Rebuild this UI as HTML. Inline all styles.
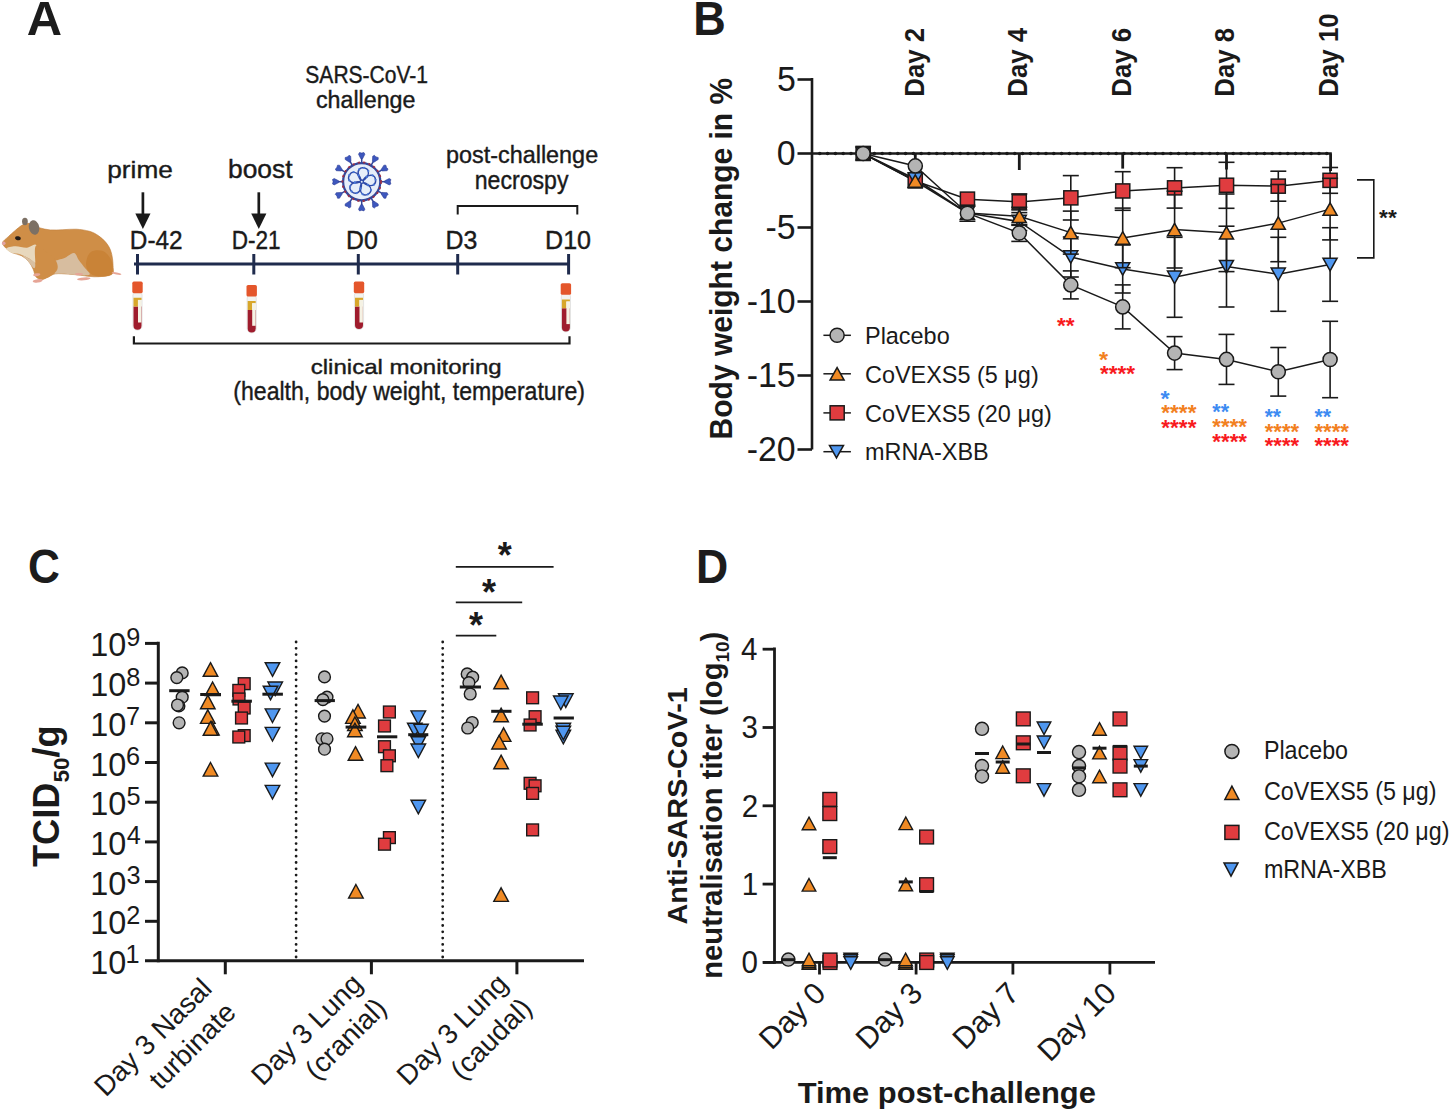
<!DOCTYPE html><html><head><meta charset="utf-8"><title>Figure</title><style>html,body{margin:0;padding:0;background:#fff;}svg{display:block;}text{font-family:"Liberation Sans",sans-serif;}</style></head><body>
<svg width="1450" height="1113" viewBox="0 0 1450 1113">
<rect width="1450" height="1113" fill="#ffffff"/>
<text x="26.78" y="34.90" font-size="47.68" font-weight="bold" fill="#1c1c1c" textLength="35.31" lengthAdjust="spacingAndGlyphs" >A</text>
<text x="693.18" y="35.00" font-size="47.53" font-weight="bold" fill="#1c1c1c" textLength="32.56" lengthAdjust="spacingAndGlyphs" >B</text>
<text x="28.09" y="583.22" font-size="48.87" font-weight="bold" fill="#1c1c1c" textLength="31.92" lengthAdjust="spacingAndGlyphs" >C</text>
<text x="696.11" y="582.80" font-size="47.53" font-weight="bold" fill="#1c1c1c" textLength="32.26" lengthAdjust="spacingAndGlyphs" >D</text>
<line x1="134.0" y1="264.0" x2="569.0" y2="264.0" stroke="#1f2b4d" stroke-width="3.2" />
<line x1="137.5" y1="254.0" x2="137.5" y2="274.5" stroke="#1f2b4d" stroke-width="3" />
<line x1="253.8" y1="254.0" x2="253.8" y2="274.5" stroke="#1f2b4d" stroke-width="3" />
<line x1="358.3" y1="254.0" x2="358.3" y2="274.5" stroke="#1f2b4d" stroke-width="3" />
<line x1="457.7" y1="254.0" x2="457.7" y2="274.5" stroke="#1f2b4d" stroke-width="3" />
<line x1="568.6" y1="254.0" x2="568.6" y2="274.5" stroke="#1f2b4d" stroke-width="3" />
<text x="305.35" y="82.77" font-size="23.59" font-weight="normal" fill="#1a1a1a" textLength="122.66" lengthAdjust="spacingAndGlyphs" stroke="#1a1a1a" stroke-width="0.4">SARS-CoV-1</text>
<text x="315.91" y="108.27" font-size="23.28" font-weight="normal" fill="#1a1a1a" textLength="99.52" lengthAdjust="spacingAndGlyphs" stroke="#1a1a1a" stroke-width="0.4">challenge</text>
<text x="107.31" y="177.66" font-size="24.78" font-weight="normal" fill="#1a1a1a" textLength="65.55" lengthAdjust="spacingAndGlyphs" stroke="#1a1a1a" stroke-width="0.4">prime</text>
<text x="228.00" y="177.65" font-size="25.19" font-weight="normal" fill="#1a1a1a" textLength="64.60" lengthAdjust="spacingAndGlyphs" stroke="#1a1a1a" stroke-width="0.4">boost</text>
<text x="446.09" y="162.87" font-size="24.25" font-weight="normal" fill="#1a1a1a" textLength="152.05" lengthAdjust="spacingAndGlyphs" stroke="#1a1a1a" stroke-width="0.4">post-challenge</text>
<text x="474.77" y="188.70" font-size="25.08" font-weight="normal" fill="#1a1a1a" textLength="93.68" lengthAdjust="spacingAndGlyphs" stroke="#1a1a1a" stroke-width="0.4">necrospy</text>
<text x="129.80" y="249.20" font-size="26.64" font-weight="normal" fill="#1a1a1a" textLength="52.82" lengthAdjust="spacingAndGlyphs" stroke="#1a1a1a" stroke-width="0.4">D-42</text>
<text x="231.75" y="249.20" font-size="26.64" font-weight="normal" fill="#1a1a1a" textLength="48.85" lengthAdjust="spacingAndGlyphs" stroke="#1a1a1a" stroke-width="0.4">D-21</text>
<text x="346.07" y="248.75" font-size="25.28" font-weight="normal" fill="#1a1a1a" textLength="31.70" lengthAdjust="spacingAndGlyphs" stroke="#1a1a1a" stroke-width="0.4">D0</text>
<text x="445.56" y="248.75" font-size="25.28" font-weight="normal" fill="#1a1a1a" textLength="31.84" lengthAdjust="spacingAndGlyphs" stroke="#1a1a1a" stroke-width="0.4">D3</text>
<text x="545.04" y="248.75" font-size="25.28" font-weight="normal" fill="#1a1a1a" textLength="46.04" lengthAdjust="spacingAndGlyphs" stroke="#1a1a1a" stroke-width="0.4">D10</text>
<text x="310.78" y="374.21" font-size="21.13" font-weight="normal" fill="#1a1a1a" textLength="190.87" lengthAdjust="spacingAndGlyphs" stroke="#1a1a1a" stroke-width="0.4">clinical monitoring</text>
<text x="233.27" y="400.15" font-size="26.28" font-weight="normal" fill="#1a1a1a" textLength="351.66" lengthAdjust="spacingAndGlyphs" stroke="#1a1a1a" stroke-width="0.4">(health, body weight, temperature)</text>
<line x1="142.9" y1="192.3" x2="142.9" y2="216.0" stroke="#1a1a1a" stroke-width="2.7" />
<polygon points="135.3,213.5 150.5,213.5 142.9,229" fill="#1a1a1a"/>
<line x1="258.8" y1="192.3" x2="258.8" y2="216.0" stroke="#1a1a1a" stroke-width="2.7" />
<polygon points="251.20000000000002,213.5 266.40000000000003,213.5 258.8,229" fill="#1a1a1a"/>
<polyline points="457.7,214.4 457.7,206.1 577.3,206.1 577.3,214.4" fill="none" stroke="#1a1a1a" stroke-width="2"/>
<polyline points="133.9,336.2 133.9,343.5 569.5,343.5 569.5,336.2" fill="none" stroke="#1a1a1a" stroke-width="2.2"/>
<rect x="132.90" y="290.60" width="9.2" height="39.60" rx="4.6" fill="#f3f3ef" stroke="#cfcfcf" stroke-width="0.5"/><path d="M133.50,306.60 H141.50 V325.70 A4,4 0 0 1 133.50,325.70 Z" fill="#9f1c2d"/><path d="M133.50,297.80 H141.50 V299.90 H137.90 V306.60 H133.50 Z" fill="#d8a72b"/><rect x="138.00" y="299.90" width="3.4" height="22.6" fill="#f5f2e4"/><rect x="132.30" y="281.60" width="10.4" height="11.6" rx="1.6" fill="#e4562b"/>
<rect x="247.10" y="293.90" width="9.2" height="39.00" rx="4.6" fill="#f3f3ef" stroke="#cfcfcf" stroke-width="0.5"/><path d="M247.70,309.90 H255.70 V328.40 A4,4 0 0 1 247.70,328.40 Z" fill="#9f1c2d"/><path d="M247.70,301.10 H255.70 V303.20 H252.10 V309.90 H247.70 Z" fill="#d8a72b"/><rect x="252.20" y="303.20" width="3.4" height="22.6" fill="#f5f2e4"/><rect x="246.50" y="284.90" width="10.4" height="11.6" rx="1.6" fill="#e4562b"/>
<rect x="354.40" y="290.60" width="9.2" height="39.00" rx="4.6" fill="#f3f3ef" stroke="#cfcfcf" stroke-width="0.5"/><path d="M355.00,306.60 H363.00 V325.10 A4,4 0 0 1 355.00,325.10 Z" fill="#9f1c2d"/><path d="M355.00,297.80 H363.00 V299.90 H359.40 V306.60 H355.00 Z" fill="#d8a72b"/><rect x="359.50" y="299.90" width="3.4" height="22.6" fill="#f5f2e4"/><rect x="353.80" y="281.60" width="10.4" height="11.6" rx="1.6" fill="#e4562b"/>
<rect x="561.30" y="292.20" width="9.2" height="39.70" rx="4.6" fill="#f3f3ef" stroke="#cfcfcf" stroke-width="0.5"/><path d="M561.90,308.20 H569.90 V327.40 A4,4 0 0 1 561.90,327.40 Z" fill="#9f1c2d"/><path d="M561.90,299.40 H569.90 V301.50 H566.30 V308.20 H561.90 Z" fill="#d8a72b"/><rect x="566.40" y="301.50" width="3.4" height="22.6" fill="#f5f2e4"/><rect x="560.70" y="283.20" width="10.4" height="11.6" rx="1.6" fill="#e4562b"/>
<line x1="361.7" y1="162.7" x2="361.7" y2="157.7" stroke="#34479a" stroke-width="1.5" /><polygon points="362.60,158.70 364.90,154.20 363.90,152.50 361.70,153.10 359.50,152.50 358.50,154.20 360.80,158.70" fill="#3d57bd" stroke="#2b3c95" stroke-width="0.6"/><line x1="371.2" y1="165.2" x2="373.7" y2="160.9" stroke="#34479a" stroke-width="1.5" /><polygon points="373.98,162.23 378.22,159.48 378.21,157.51 376.00,156.93 374.39,155.31 372.68,156.28 372.42,161.33" fill="#3d57bd" stroke="#2b3c95" stroke-width="0.6"/><line x1="378.2" y1="172.2" x2="382.5" y2="169.7" stroke="#34479a" stroke-width="1.5" /><polygon points="382.07,170.98 387.12,170.72 388.09,169.01 386.47,167.40 385.89,165.19 383.92,165.18 381.17,169.42" fill="#3d57bd" stroke="#2b3c95" stroke-width="0.6"/><line x1="380.7" y1="181.7" x2="385.7" y2="181.7" stroke="#34479a" stroke-width="1.5" /><polygon points="384.70,182.60 389.20,184.90 390.90,183.90 390.30,181.70 390.90,179.50 389.20,178.50 384.70,180.80" fill="#3d57bd" stroke="#2b3c95" stroke-width="0.6"/><line x1="378.2" y1="191.2" x2="382.5" y2="193.7" stroke="#34479a" stroke-width="1.5" /><polygon points="381.17,193.98 383.92,198.22 385.89,198.21 386.47,196.00 388.09,194.39 387.12,192.68 382.07,192.42" fill="#3d57bd" stroke="#2b3c95" stroke-width="0.6"/><line x1="371.2" y1="198.2" x2="373.7" y2="202.5" stroke="#34479a" stroke-width="1.5" /><polygon points="372.42,202.07 372.68,207.12 374.39,208.09 376.00,206.47 378.21,205.89 378.22,203.92 373.98,201.17" fill="#3d57bd" stroke="#2b3c95" stroke-width="0.6"/><line x1="361.7" y1="200.7" x2="361.7" y2="205.7" stroke="#34479a" stroke-width="1.5" /><polygon points="360.80,204.70 358.50,209.20 359.50,210.90 361.70,210.30 363.90,210.90 364.90,209.20 362.60,204.70" fill="#3d57bd" stroke="#2b3c95" stroke-width="0.6"/><line x1="352.2" y1="198.2" x2="349.7" y2="202.5" stroke="#34479a" stroke-width="1.5" /><polygon points="349.42,201.17 345.18,203.92 345.19,205.89 347.40,206.47 349.01,208.09 350.72,207.12 350.98,202.07" fill="#3d57bd" stroke="#2b3c95" stroke-width="0.6"/><line x1="345.2" y1="191.2" x2="340.9" y2="193.7" stroke="#34479a" stroke-width="1.5" /><polygon points="341.33,192.42 336.28,192.68 335.31,194.39 336.93,196.00 337.51,198.21 339.48,198.22 342.23,193.98" fill="#3d57bd" stroke="#2b3c95" stroke-width="0.6"/><line x1="342.7" y1="181.7" x2="337.7" y2="181.7" stroke="#34479a" stroke-width="1.5" /><polygon points="338.70,180.80 334.20,178.50 332.50,179.50 333.10,181.70 332.50,183.90 334.20,184.90 338.70,182.60" fill="#3d57bd" stroke="#2b3c95" stroke-width="0.6"/><line x1="345.2" y1="172.2" x2="340.9" y2="169.7" stroke="#34479a" stroke-width="1.5" /><polygon points="342.23,169.42 339.48,165.18 337.51,165.19 336.93,167.40 335.31,169.01 336.28,170.72 341.33,170.98" fill="#3d57bd" stroke="#2b3c95" stroke-width="0.6"/><line x1="352.2" y1="165.2" x2="349.7" y2="160.9" stroke="#34479a" stroke-width="1.5" /><polygon points="350.98,161.33 350.72,156.28 349.01,155.31 347.40,156.93 345.19,157.51 345.18,159.48 349.42,162.23" fill="#3d57bd" stroke="#2b3c95" stroke-width="0.6"/><circle cx="361.7" cy="181.7" r="18.6" fill="#e7eef9" stroke="#34479a" stroke-width="2.2"/><circle cx="361.7" cy="181.7" r="19.3" fill="none" stroke="#9c2f45" stroke-width="1.8" stroke-dasharray="2.2 3.2"/><path d="M361.96,180.22 C360.55,179.97 358.89,177.31 358.41,175.52 C357.94,173.73 358.15,170.74 359.10,169.47 C360.05,168.21 362.59,167.64 364.13,167.91 C365.67,168.18 367.86,169.58 368.32,171.10 C368.79,172.62 367.96,175.50 366.90,177.02 C365.84,178.54 363.38,180.47 361.96,180.22 Z" fill="none" stroke="#2f4aa8" stroke-width="1.4"/><circle cx="358.41" cy="175.52" r="1.1" fill="#4a78d8"/><circle cx="359.10" cy="169.47" r="1.1" fill="#4a78d8"/><circle cx="368.32" cy="171.10" r="1.1" fill="#4a78d8"/><circle cx="366.90" cy="177.02" r="1.1" fill="#4a78d8"/><circle cx="364.13" cy="167.91" r="1.1" fill="#4a78d8"/><path d="M363.19,181.49 C362.99,180.07 365.01,177.67 366.56,176.66 C368.12,175.66 371.03,174.94 372.53,175.45 C374.03,175.96 375.35,178.21 375.56,179.75 C375.78,181.30 375.13,183.82 373.83,184.72 C372.53,185.63 369.54,185.74 367.76,185.20 C365.99,184.66 363.39,182.91 363.19,181.49 Z" fill="none" stroke="#2f4aa8" stroke-width="1.4"/><circle cx="366.56" cy="176.66" r="1.1" fill="#4a78d8"/><circle cx="372.53" cy="175.45" r="1.1" fill="#4a78d8"/><circle cx="373.83" cy="184.72" r="1.1" fill="#4a78d8"/><circle cx="367.76" cy="185.20" r="1.1" fill="#4a78d8"/><circle cx="375.56" cy="179.75" r="1.1" fill="#4a78d8"/><path d="M362.36,183.05 C363.65,182.42 366.55,183.60 367.99,184.77 C369.43,185.94 371.02,188.48 370.99,190.06 C370.96,191.65 369.24,193.60 367.84,194.28 C366.43,194.97 363.84,195.13 362.57,194.17 C361.31,193.21 360.28,190.40 360.24,188.55 C360.21,186.69 361.07,183.68 362.36,183.05 Z" fill="none" stroke="#2f4aa8" stroke-width="1.4"/><circle cx="367.99" cy="184.77" r="1.1" fill="#4a78d8"/><circle cx="370.99" cy="190.06" r="1.1" fill="#4a78d8"/><circle cx="362.57" cy="194.17" r="1.1" fill="#4a78d8"/><circle cx="360.24" cy="188.55" r="1.1" fill="#4a78d8"/><circle cx="367.84" cy="194.28" r="1.1" fill="#4a78d8"/><path d="M360.62,182.74 C361.62,183.78 361.39,186.90 360.73,188.63 C360.06,190.36 358.13,192.65 356.62,193.12 C355.10,193.58 352.71,192.55 351.63,191.43 C350.54,190.30 349.59,187.88 350.11,186.38 C350.63,184.88 352.99,183.04 354.74,182.43 C356.49,181.82 359.62,181.71 360.62,182.74 Z" fill="none" stroke="#2f4aa8" stroke-width="1.4"/><circle cx="360.73" cy="188.63" r="1.1" fill="#4a78d8"/><circle cx="356.62" cy="193.12" r="1.1" fill="#4a78d8"/><circle cx="350.11" cy="186.38" r="1.1" fill="#4a78d8"/><circle cx="354.74" cy="182.43" r="1.1" fill="#4a78d8"/><circle cx="351.63" cy="191.43" r="1.1" fill="#4a78d8"/><path d="M360.38,181.00 C359.70,182.26 356.66,183.02 354.81,182.92 C352.96,182.82 350.18,181.69 349.27,180.39 C348.36,179.10 348.61,176.51 349.34,175.13 C350.07,173.75 352.08,172.09 353.67,172.12 C355.25,172.15 357.73,173.83 358.85,175.31 C359.97,176.78 361.05,179.73 360.38,181.00 Z" fill="none" stroke="#2f4aa8" stroke-width="1.4"/><circle cx="354.81" cy="182.92" r="1.1" fill="#4a78d8"/><circle cx="349.27" cy="180.39" r="1.1" fill="#4a78d8"/><circle cx="353.67" cy="172.12" r="1.1" fill="#4a78d8"/><circle cx="358.85" cy="175.31" r="1.1" fill="#4a78d8"/><circle cx="349.34" cy="175.13" r="1.1" fill="#4a78d8"/>
<g><path d="M2.51,242.72 C2.81,240.78 5.95,238.94 8.07,236.90 C10.19,234.85 12.85,232.41 15.24,230.44 C17.63,228.47 20.02,226.23 22.41,225.06 C24.80,223.90 26.75,223.00 29.59,223.45 C32.42,223.90 36.01,226.68 39.45,227.75 C42.88,228.83 46.32,229.57 50.21,229.90 C54.09,230.23 58.42,229.84 62.76,229.72 C67.09,229.60 71.72,228.92 76.21,229.19 C80.69,229.45 85.92,230.23 89.65,231.34 C93.39,232.44 95.93,234.00 98.62,235.82 C101.31,237.64 103.82,239.93 105.79,242.28 C107.76,244.62 109.33,247.13 110.45,249.90 C111.57,252.66 112.07,255.95 112.52,258.86 C112.96,261.78 113.04,265.06 113.14,267.38 C113.25,269.69 113.92,271.38 113.14,272.76 C112.37,274.13 111.65,274.95 108.48,275.63 C105.31,276.30 98.77,276.85 94.14,276.79 C89.50,276.73 85.02,275.72 80.69,275.27 C76.36,274.82 72.32,274.34 68.14,274.10 C63.95,273.86 58.87,273.39 55.59,273.83 C52.30,274.28 50.65,275.85 48.41,276.79 C46.17,277.73 44.23,279.48 42.14,279.48 C40.05,279.48 37.36,278.51 35.86,276.79 C34.37,275.07 34.37,271.71 33.17,269.17 C31.98,266.63 30.63,263.79 28.69,261.55 C26.75,259.31 24.21,257.17 21.52,255.72 C18.83,254.27 15.09,254.05 12.55,252.85 C10.01,251.66 7.95,250.24 6.28,248.55 C4.60,246.86 2.21,244.67 2.51,242.72 Z" fill="#cf8e47" stroke="#bf7d3a" stroke-width="0.6"/><path d="M90.55,252.14 C93.24,250.12 98.89,249.75 102.21,250.79 C105.52,251.84 108.69,255.50 110.45,258.41 C112.22,261.33 112.81,265.51 112.78,268.28 C112.75,271.04 112.93,273.65 110.27,275.00 C107.61,276.34 100.41,276.87 96.83,276.34 C93.24,275.82 90.55,274.10 88.76,271.86 C86.96,269.62 85.77,266.18 86.07,262.90 C86.37,259.61 87.86,254.15 90.55,252.14 Z" fill="#c98337"/><path d="M53.79,261.55 C55.73,259.98 61.19,259.38 64.55,257.96 C67.91,256.55 71.57,252.66 73.96,253.03 C76.36,253.41 77.03,257.67 78.90,260.21 C80.76,262.75 83.38,265.88 85.17,268.28 C86.96,270.67 90.70,273.39 89.65,274.55 C88.61,275.72 83.08,275.39 78.90,275.27 C74.71,275.15 68.73,274.18 64.55,273.83 C60.37,273.49 55.73,274.28 53.79,273.21 C51.85,272.13 52.90,269.32 52.90,267.38 C52.90,265.44 51.85,263.12 53.79,261.55 Z" fill="#d7bd9f"/><path d="M6.28,248.55 C6.87,247.46 11.80,246.46 15.24,246.31 C18.68,246.16 23.53,247.95 26.90,247.65 C30.26,247.36 33.62,243.77 35.41,244.52 C37.21,245.26 37.65,249.07 37.65,252.14 C37.65,255.20 36.76,261.78 35.41,262.90 C34.07,264.02 32.05,260.28 29.59,258.86 C27.12,257.44 23.61,255.38 20.62,254.38 C17.63,253.38 14.05,253.83 11.66,252.85 C9.26,251.88 5.68,249.64 6.28,248.55 Z" fill="#e8d8bd"/><path d="M22.41,255.28 C22.56,254.75 27.42,257.52 29.59,258.86 C31.75,260.21 34.67,261.78 35.41,263.34 C36.16,264.91 35.19,268.50 34.07,268.28 C32.95,268.05 30.63,264.17 28.69,262.00 C26.75,259.83 22.26,255.80 22.41,255.28 Z" fill="#d9c0a2"/><path d="M35.86,245.86 C37.73,243.92 43.33,249.75 46.62,252.14 C49.91,254.53 53.79,257.37 55.59,260.21 C57.38,263.05 58.28,266.48 57.38,269.17 C56.48,271.86 52.75,274.67 50.21,276.34 C47.67,278.02 44.38,279.29 42.14,279.21 C39.90,279.14 37.88,278.47 36.76,275.90 C35.64,273.33 35.56,268.80 35.41,263.79 C35.26,258.79 33.99,247.80 35.86,245.86 Z" fill="#cf8e47"/><ellipse cx="24.92" cy="221.48" rx="2.87" ry="3.77" fill="#7c7064"/><ellipse cx="34.07" cy="227.48" rx="5.20" ry="7.35" transform="rotate(-12 34.07 227.48)" fill="#7c7064"/><ellipse cx="17.93" cy="238.24" rx="2.87" ry="1.97" transform="rotate(15 17.93 238.24)" fill="#231b16"/><circle cx="3.77" cy="243.35" r="1.79" fill="#e2a3a3"/><ellipse cx="36.76" cy="274.73" rx="3.59" ry="1.43" transform="rotate(-10 36.76 274.73)" fill="#e6a596"/><ellipse cx="37.65" cy="280.83" rx="4.93" ry="1.61" transform="rotate(-8 37.65 280.83)" fill="#e6a596"/><ellipse cx="83.83" cy="278.85" rx="6.72" ry="1.43" transform="rotate(-5 83.83 278.85)" fill="#e6a596"/><ellipse cx="116.55" cy="273.47" rx="4.93" ry="1.08" transform="rotate(10 116.55 273.47)" fill="#e6a596"/><ellipse cx="78.90" cy="274.19" rx="4.03" ry="1.08" transform="rotate(0 78.90 274.19)" fill="#e6a596"/></g>
<line x1="812.0" y1="78.0" x2="812.0" y2="449.5" stroke="#1a1a1a" stroke-width="2.6" />
<line x1="797.5" y1="79.5" x2="812.0" y2="79.5" stroke="#1a1a1a" stroke-width="2.6" />
<text x="776.88" y="90.56" font-size="34.75" font-weight="normal" fill="#1a1a1a" textLength="18.85" lengthAdjust="spacingAndGlyphs">5</text>
<line x1="797.5" y1="153.5" x2="812.0" y2="153.5" stroke="#1a1a1a" stroke-width="2.6" />
<text x="776.78" y="164.56" font-size="34.75" font-weight="normal" fill="#1a1a1a" textLength="18.85" lengthAdjust="spacingAndGlyphs">0</text>
<line x1="797.5" y1="227.5" x2="812.0" y2="227.5" stroke="#1a1a1a" stroke-width="2.6" />
<text x="765.59" y="238.56" font-size="34.75" font-weight="normal" fill="#1a1a1a" textLength="30.13" lengthAdjust="spacingAndGlyphs">-5</text>
<line x1="797.5" y1="301.5" x2="812.0" y2="301.5" stroke="#1a1a1a" stroke-width="2.6" />
<text x="746.64" y="312.56" font-size="34.75" font-weight="normal" fill="#1a1a1a" textLength="48.98" lengthAdjust="spacingAndGlyphs">-10</text>
<line x1="797.5" y1="375.5" x2="812.0" y2="375.5" stroke="#1a1a1a" stroke-width="2.6" />
<text x="746.74" y="386.56" font-size="34.75" font-weight="normal" fill="#1a1a1a" textLength="48.98" lengthAdjust="spacingAndGlyphs">-15</text>
<line x1="797.5" y1="449.5" x2="812.0" y2="449.5" stroke="#1a1a1a" stroke-width="2.6" />
<text x="746.64" y="460.56" font-size="34.75" font-weight="normal" fill="#1a1a1a" textLength="48.98" lengthAdjust="spacingAndGlyphs">-20</text>
<text transform="rotate(-90)" x="-439.41" y="732.35" font-size="30.43" font-weight="bold" fill="#1a1a1a" textLength="361.60" lengthAdjust="spacingAndGlyphs">Body weight change in %</text>
<text transform="translate(0.00,0) rotate(-90)" x="-96.63" y="923.99" font-size="27.05" font-weight="bold" fill="#1a1a1a" textLength="68.86" lengthAdjust="spacingAndGlyphs">Day 2</text>
<text transform="translate(103.10,0) rotate(-90)" x="-96.63" y="923.99" font-size="27.05" font-weight="bold" fill="#1a1a1a" textLength="68.86" lengthAdjust="spacingAndGlyphs">Day 4</text>
<text transform="translate(206.60,0) rotate(-90)" x="-96.63" y="923.99" font-size="27.05" font-weight="bold" fill="#1a1a1a" textLength="68.86" lengthAdjust="spacingAndGlyphs">Day 6</text>
<text transform="translate(310.10,0) rotate(-90)" x="-96.63" y="923.99" font-size="27.05" font-weight="bold" fill="#1a1a1a" textLength="68.86" lengthAdjust="spacingAndGlyphs">Day 8</text>
<text transform="translate(414.40,0) rotate(-90)" x="-96.63" y="923.99" font-size="27.05" font-weight="bold" fill="#1a1a1a" textLength="83.21" lengthAdjust="spacingAndGlyphs">Day 10</text>
<line x1="812.0" y1="153.5" x2="1331.8" y2="153.5" stroke="#1a1a1a" stroke-width="2.4" />
<line x1="819.8" y1="153.5" x2="1330" y2="153.5" stroke="#1a1a1a" stroke-width="3.6" stroke-linecap="round" stroke-dasharray="0 7.8"/>
<line x1="915.3" y1="153.5" x2="915.3" y2="163.0" stroke="#1a1a1a" stroke-width="2.8" />
<line x1="1019.3" y1="153.5" x2="1019.3" y2="170.0" stroke="#1a1a1a" stroke-width="2.8" />
<line x1="1122.7" y1="153.5" x2="1122.7" y2="168.6" stroke="#1a1a1a" stroke-width="2.8" />
<line x1="1226.5" y1="153.5" x2="1226.5" y2="169.5" stroke="#1a1a1a" stroke-width="2.8" />
<line x1="1330.6" y1="153.5" x2="1330.6" y2="171.0" stroke="#1a1a1a" stroke-width="2.8" />
<polyline points="863.1,153.5 915.3,181.0 967.4,199.2 1019.3,201.9 1070.8,197.8 1122.7,191.0 1174.6,187.9 1226.5,185.3 1278.3,186.2 1330.1,180.4" fill="none" stroke="#1a1a1a" stroke-width="1.5"/>
<polyline points="863.1,153.5 915.3,179.0 967.4,213.0 1019.3,221.6 1070.8,257.0 1122.7,269.0 1174.6,277.3 1226.5,266.6 1278.3,274.3 1330.1,264.5" fill="none" stroke="#1a1a1a" stroke-width="1.5"/>
<polyline points="863.1,153.5 915.3,181.0 967.4,213.0 1019.3,216.3 1070.8,232.6 1122.7,237.9 1174.6,229.6 1226.5,232.8 1278.3,223.1 1330.1,209.1" fill="none" stroke="#1a1a1a" stroke-width="1.5"/>
<polyline points="863.1,153.5 915.3,165.9 967.4,213.2 1019.3,233.0 1070.8,284.9 1122.7,306.9 1174.6,353.1 1226.5,359.4 1278.3,371.8 1330.1,359.5" fill="none" stroke="#1a1a1a" stroke-width="1.5"/>
<line x1="1019.3" y1="193.9" x2="1019.3" y2="209.9" stroke="#1a1a1a" stroke-width="1.6" /><line x1="1011.3" y1="193.9" x2="1027.3" y2="193.9" stroke="#1a1a1a" stroke-width="1.6" /><line x1="1011.3" y1="209.9" x2="1027.3" y2="209.9" stroke="#1a1a1a" stroke-width="1.6" /><line x1="1070.8" y1="175.6" x2="1070.8" y2="220.0" stroke="#1a1a1a" stroke-width="1.6" /><line x1="1062.8" y1="175.6" x2="1078.8" y2="175.6" stroke="#1a1a1a" stroke-width="1.6" /><line x1="1062.8" y1="220.0" x2="1078.8" y2="220.0" stroke="#1a1a1a" stroke-width="1.6" /><line x1="1122.7" y1="171.7" x2="1122.7" y2="210.3" stroke="#1a1a1a" stroke-width="1.6" /><line x1="1114.7" y1="171.7" x2="1130.7" y2="171.7" stroke="#1a1a1a" stroke-width="1.6" /><line x1="1114.7" y1="210.3" x2="1130.7" y2="210.3" stroke="#1a1a1a" stroke-width="1.6" /><line x1="1174.6" y1="167.7" x2="1174.6" y2="208.1" stroke="#1a1a1a" stroke-width="1.6" /><line x1="1166.6" y1="167.7" x2="1182.6" y2="167.7" stroke="#1a1a1a" stroke-width="1.6" /><line x1="1166.6" y1="208.1" x2="1182.6" y2="208.1" stroke="#1a1a1a" stroke-width="1.6" /><line x1="1226.5" y1="162.3" x2="1226.5" y2="208.3" stroke="#1a1a1a" stroke-width="1.6" /><line x1="1218.5" y1="162.3" x2="1234.5" y2="162.3" stroke="#1a1a1a" stroke-width="1.6" /><line x1="1218.5" y1="208.3" x2="1234.5" y2="208.3" stroke="#1a1a1a" stroke-width="1.6" /><line x1="1278.3" y1="171.2" x2="1278.3" y2="201.2" stroke="#1a1a1a" stroke-width="1.6" /><line x1="1270.3" y1="171.2" x2="1286.3" y2="171.2" stroke="#1a1a1a" stroke-width="1.6" /><line x1="1270.3" y1="201.2" x2="1286.3" y2="201.2" stroke="#1a1a1a" stroke-width="1.6" /><line x1="1330.1" y1="167.5" x2="1330.1" y2="193.3" stroke="#1a1a1a" stroke-width="1.6" /><line x1="1322.1" y1="167.5" x2="1338.1" y2="167.5" stroke="#1a1a1a" stroke-width="1.6" /><line x1="1322.1" y1="193.3" x2="1338.1" y2="193.3" stroke="#1a1a1a" stroke-width="1.6" /><rect x="856.1" y="146.4" width="14.1" height="14.1" fill="#e03c3f" stroke="#1a1a1a" stroke-width="1.5"/><rect x="908.2" y="173.9" width="14.1" height="14.1" fill="#e03c3f" stroke="#1a1a1a" stroke-width="1.5"/><rect x="960.4" y="192.1" width="14.1" height="14.1" fill="#e03c3f" stroke="#1a1a1a" stroke-width="1.5"/><rect x="1012.2" y="194.8" width="14.1" height="14.1" fill="#e03c3f" stroke="#1a1a1a" stroke-width="1.5"/><rect x="1063.8" y="190.8" width="14.1" height="14.1" fill="#e03c3f" stroke="#1a1a1a" stroke-width="1.5"/><rect x="1115.7" y="183.9" width="14.1" height="14.1" fill="#e03c3f" stroke="#1a1a1a" stroke-width="1.5"/><rect x="1167.5" y="180.8" width="14.1" height="14.1" fill="#e03c3f" stroke="#1a1a1a" stroke-width="1.5"/><rect x="1219.5" y="178.2" width="14.1" height="14.1" fill="#e03c3f" stroke="#1a1a1a" stroke-width="1.5"/><rect x="1271.2" y="179.1" width="14.1" height="14.1" fill="#e03c3f" stroke="#1a1a1a" stroke-width="1.5"/><rect x="1323.0" y="173.3" width="14.1" height="14.1" fill="#e03c3f" stroke="#1a1a1a" stroke-width="1.5"/><line x1="1019.3" y1="212.6" x2="1019.3" y2="230.6" stroke="#1a1a1a" stroke-width="1.6" /><line x1="1011.3" y1="212.6" x2="1027.3" y2="212.6" stroke="#1a1a1a" stroke-width="1.6" /><line x1="1011.3" y1="230.6" x2="1027.3" y2="230.6" stroke="#1a1a1a" stroke-width="1.6" /><line x1="1070.8" y1="237.0" x2="1070.8" y2="277.0" stroke="#1a1a1a" stroke-width="1.6" /><line x1="1062.8" y1="237.0" x2="1078.8" y2="237.0" stroke="#1a1a1a" stroke-width="1.6" /><line x1="1062.8" y1="277.0" x2="1078.8" y2="277.0" stroke="#1a1a1a" stroke-width="1.6" /><line x1="1122.7" y1="245.0" x2="1122.7" y2="293.0" stroke="#1a1a1a" stroke-width="1.6" /><line x1="1114.7" y1="245.0" x2="1130.7" y2="245.0" stroke="#1a1a1a" stroke-width="1.6" /><line x1="1114.7" y1="293.0" x2="1130.7" y2="293.0" stroke="#1a1a1a" stroke-width="1.6" /><line x1="1174.6" y1="237.3" x2="1174.6" y2="317.3" stroke="#1a1a1a" stroke-width="1.6" /><line x1="1166.6" y1="237.3" x2="1182.6" y2="237.3" stroke="#1a1a1a" stroke-width="1.6" /><line x1="1166.6" y1="317.3" x2="1182.6" y2="317.3" stroke="#1a1a1a" stroke-width="1.6" /><line x1="1226.5" y1="226.2" x2="1226.5" y2="307.0" stroke="#1a1a1a" stroke-width="1.6" /><line x1="1218.5" y1="226.2" x2="1234.5" y2="226.2" stroke="#1a1a1a" stroke-width="1.6" /><line x1="1218.5" y1="307.0" x2="1234.5" y2="307.0" stroke="#1a1a1a" stroke-width="1.6" /><line x1="1278.3" y1="237.3" x2="1278.3" y2="311.3" stroke="#1a1a1a" stroke-width="1.6" /><line x1="1270.3" y1="237.3" x2="1286.3" y2="237.3" stroke="#1a1a1a" stroke-width="1.6" /><line x1="1270.3" y1="311.3" x2="1286.3" y2="311.3" stroke="#1a1a1a" stroke-width="1.6" /><line x1="1330.1" y1="227.7" x2="1330.1" y2="301.3" stroke="#1a1a1a" stroke-width="1.6" /><line x1="1322.1" y1="227.7" x2="1338.1" y2="227.7" stroke="#1a1a1a" stroke-width="1.6" /><line x1="1322.1" y1="301.3" x2="1338.1" y2="301.3" stroke="#1a1a1a" stroke-width="1.6" /><polygon points="863.1,159.8 870.1,147.2 856.1,147.2" fill="#4f97f0" stroke="#1a1a1a" stroke-width="1.5" stroke-linejoin="miter"/><polygon points="915.3,185.2 922.3,172.8 908.2,172.8" fill="#4f97f0" stroke="#1a1a1a" stroke-width="1.5" stroke-linejoin="miter"/><polygon points="967.4,219.2 974.4,206.8 960.4,206.8" fill="#4f97f0" stroke="#1a1a1a" stroke-width="1.5" stroke-linejoin="miter"/><polygon points="1019.3,227.8 1026.3,215.3 1012.2,215.3" fill="#4f97f0" stroke="#1a1a1a" stroke-width="1.5" stroke-linejoin="miter"/><polygon points="1070.8,263.2 1077.8,250.8 1063.8,250.8" fill="#4f97f0" stroke="#1a1a1a" stroke-width="1.5" stroke-linejoin="miter"/><polygon points="1122.7,275.2 1129.8,262.8 1115.7,262.8" fill="#4f97f0" stroke="#1a1a1a" stroke-width="1.5" stroke-linejoin="miter"/><polygon points="1174.6,283.6 1181.6,271.1 1167.5,271.1" fill="#4f97f0" stroke="#1a1a1a" stroke-width="1.5" stroke-linejoin="miter"/><polygon points="1226.5,272.9 1233.5,260.4 1219.5,260.4" fill="#4f97f0" stroke="#1a1a1a" stroke-width="1.5" stroke-linejoin="miter"/><polygon points="1278.3,280.6 1285.3,268.1 1271.2,268.1" fill="#4f97f0" stroke="#1a1a1a" stroke-width="1.5" stroke-linejoin="miter"/><polygon points="1330.1,270.8 1337.1,258.2 1323.0,258.2" fill="#4f97f0" stroke="#1a1a1a" stroke-width="1.5" stroke-linejoin="miter"/><line x1="1019.3" y1="207.3" x2="1019.3" y2="225.3" stroke="#1a1a1a" stroke-width="1.6" /><line x1="1011.3" y1="207.3" x2="1027.3" y2="207.3" stroke="#1a1a1a" stroke-width="1.6" /><line x1="1011.3" y1="225.3" x2="1027.3" y2="225.3" stroke="#1a1a1a" stroke-width="1.6" /><line x1="1070.8" y1="211.1" x2="1070.8" y2="254.1" stroke="#1a1a1a" stroke-width="1.6" /><line x1="1062.8" y1="211.1" x2="1078.8" y2="211.1" stroke="#1a1a1a" stroke-width="1.6" /><line x1="1062.8" y1="254.1" x2="1078.8" y2="254.1" stroke="#1a1a1a" stroke-width="1.6" /><line x1="1122.7" y1="208.1" x2="1122.7" y2="267.7" stroke="#1a1a1a" stroke-width="1.6" /><line x1="1114.7" y1="208.1" x2="1130.7" y2="208.1" stroke="#1a1a1a" stroke-width="1.6" /><line x1="1114.7" y1="267.7" x2="1130.7" y2="267.7" stroke="#1a1a1a" stroke-width="1.6" /><line x1="1174.6" y1="191.2" x2="1174.6" y2="268.0" stroke="#1a1a1a" stroke-width="1.6" /><line x1="1166.6" y1="191.2" x2="1182.6" y2="191.2" stroke="#1a1a1a" stroke-width="1.6" /><line x1="1166.6" y1="268.0" x2="1182.6" y2="268.0" stroke="#1a1a1a" stroke-width="1.6" /><line x1="1226.5" y1="194.0" x2="1226.5" y2="271.6" stroke="#1a1a1a" stroke-width="1.6" /><line x1="1218.5" y1="194.0" x2="1234.5" y2="194.0" stroke="#1a1a1a" stroke-width="1.6" /><line x1="1218.5" y1="271.6" x2="1234.5" y2="271.6" stroke="#1a1a1a" stroke-width="1.6" /><line x1="1278.3" y1="184.5" x2="1278.3" y2="261.7" stroke="#1a1a1a" stroke-width="1.6" /><line x1="1270.3" y1="184.5" x2="1286.3" y2="184.5" stroke="#1a1a1a" stroke-width="1.6" /><line x1="1270.3" y1="261.7" x2="1286.3" y2="261.7" stroke="#1a1a1a" stroke-width="1.6" /><line x1="1330.1" y1="178.3" x2="1330.1" y2="239.9" stroke="#1a1a1a" stroke-width="1.6" /><line x1="1322.1" y1="178.3" x2="1338.1" y2="178.3" stroke="#1a1a1a" stroke-width="1.6" /><line x1="1322.1" y1="239.9" x2="1338.1" y2="239.9" stroke="#1a1a1a" stroke-width="1.6" /><polygon points="863.1,147.2 870.1,159.8 856.1,159.8" fill="#f08a24" stroke="#1a1a1a" stroke-width="1.5" stroke-linejoin="miter"/><polygon points="915.3,174.8 922.3,187.2 908.2,187.2" fill="#f08a24" stroke="#1a1a1a" stroke-width="1.5" stroke-linejoin="miter"/><polygon points="967.4,206.8 974.4,219.2 960.4,219.2" fill="#f08a24" stroke="#1a1a1a" stroke-width="1.5" stroke-linejoin="miter"/><polygon points="1019.3,210.1 1026.3,222.6 1012.2,222.6" fill="#f08a24" stroke="#1a1a1a" stroke-width="1.5" stroke-linejoin="miter"/><polygon points="1070.8,226.3 1077.8,238.8 1063.8,238.8" fill="#f08a24" stroke="#1a1a1a" stroke-width="1.5" stroke-linejoin="miter"/><polygon points="1122.7,231.7 1129.8,244.2 1115.7,244.2" fill="#f08a24" stroke="#1a1a1a" stroke-width="1.5" stroke-linejoin="miter"/><polygon points="1174.6,223.3 1181.6,235.8 1167.5,235.8" fill="#f08a24" stroke="#1a1a1a" stroke-width="1.5" stroke-linejoin="miter"/><polygon points="1226.5,226.6 1233.5,239.1 1219.5,239.1" fill="#f08a24" stroke="#1a1a1a" stroke-width="1.5" stroke-linejoin="miter"/><polygon points="1278.3,216.8 1285.3,229.3 1271.2,229.3" fill="#f08a24" stroke="#1a1a1a" stroke-width="1.5" stroke-linejoin="miter"/><polygon points="1330.1,202.8 1337.1,215.3 1323.0,215.3" fill="#f08a24" stroke="#1a1a1a" stroke-width="1.5" stroke-linejoin="miter"/><line x1="967.4" y1="205.2" x2="967.4" y2="221.2" stroke="#1a1a1a" stroke-width="1.6" /><line x1="959.4" y1="205.2" x2="975.4" y2="205.2" stroke="#1a1a1a" stroke-width="1.6" /><line x1="959.4" y1="221.2" x2="975.4" y2="221.2" stroke="#1a1a1a" stroke-width="1.6" /><line x1="1019.3" y1="224.6" x2="1019.3" y2="241.4" stroke="#1a1a1a" stroke-width="1.6" /><line x1="1011.3" y1="224.6" x2="1027.3" y2="224.6" stroke="#1a1a1a" stroke-width="1.6" /><line x1="1011.3" y1="241.4" x2="1027.3" y2="241.4" stroke="#1a1a1a" stroke-width="1.6" /><line x1="1070.8" y1="270.9" x2="1070.8" y2="298.9" stroke="#1a1a1a" stroke-width="1.6" /><line x1="1062.8" y1="270.9" x2="1078.8" y2="270.9" stroke="#1a1a1a" stroke-width="1.6" /><line x1="1062.8" y1="298.9" x2="1078.8" y2="298.9" stroke="#1a1a1a" stroke-width="1.6" /><line x1="1122.7" y1="284.9" x2="1122.7" y2="328.9" stroke="#1a1a1a" stroke-width="1.6" /><line x1="1114.7" y1="284.9" x2="1130.7" y2="284.9" stroke="#1a1a1a" stroke-width="1.6" /><line x1="1114.7" y1="328.9" x2="1130.7" y2="328.9" stroke="#1a1a1a" stroke-width="1.6" /><line x1="1174.6" y1="336.6" x2="1174.6" y2="369.6" stroke="#1a1a1a" stroke-width="1.6" /><line x1="1166.6" y1="336.6" x2="1182.6" y2="336.6" stroke="#1a1a1a" stroke-width="1.6" /><line x1="1166.6" y1="369.6" x2="1182.6" y2="369.6" stroke="#1a1a1a" stroke-width="1.6" /><line x1="1226.5" y1="334.4" x2="1226.5" y2="384.4" stroke="#1a1a1a" stroke-width="1.6" /><line x1="1218.5" y1="334.4" x2="1234.5" y2="334.4" stroke="#1a1a1a" stroke-width="1.6" /><line x1="1218.5" y1="384.4" x2="1234.5" y2="384.4" stroke="#1a1a1a" stroke-width="1.6" /><line x1="1278.3" y1="347.5" x2="1278.3" y2="396.1" stroke="#1a1a1a" stroke-width="1.6" /><line x1="1270.3" y1="347.5" x2="1286.3" y2="347.5" stroke="#1a1a1a" stroke-width="1.6" /><line x1="1270.3" y1="396.1" x2="1286.3" y2="396.1" stroke="#1a1a1a" stroke-width="1.6" /><line x1="1330.1" y1="321.3" x2="1330.1" y2="397.7" stroke="#1a1a1a" stroke-width="1.6" /><line x1="1322.1" y1="321.3" x2="1338.1" y2="321.3" stroke="#1a1a1a" stroke-width="1.6" /><line x1="1322.1" y1="397.7" x2="1338.1" y2="397.7" stroke="#1a1a1a" stroke-width="1.6" /><circle cx="863.1" cy="153.5" r="7.05" fill="#b4b4b4" stroke="#1a1a1a" stroke-width="1.5"/><circle cx="915.3" cy="165.9" r="7.05" fill="#b4b4b4" stroke="#1a1a1a" stroke-width="1.5"/><circle cx="967.4" cy="213.2" r="7.05" fill="#b4b4b4" stroke="#1a1a1a" stroke-width="1.5"/><circle cx="1019.3" cy="233.0" r="7.05" fill="#b4b4b4" stroke="#1a1a1a" stroke-width="1.5"/><circle cx="1070.8" cy="284.9" r="7.05" fill="#b4b4b4" stroke="#1a1a1a" stroke-width="1.5"/><circle cx="1122.7" cy="306.9" r="7.05" fill="#b4b4b4" stroke="#1a1a1a" stroke-width="1.5"/><circle cx="1174.6" cy="353.1" r="7.05" fill="#b4b4b4" stroke="#1a1a1a" stroke-width="1.5"/><circle cx="1226.5" cy="359.4" r="7.05" fill="#b4b4b4" stroke="#1a1a1a" stroke-width="1.5"/><circle cx="1278.3" cy="371.8" r="7.05" fill="#b4b4b4" stroke="#1a1a1a" stroke-width="1.5"/><circle cx="1330.1" cy="359.5" r="7.05" fill="#b4b4b4" stroke="#1a1a1a" stroke-width="1.5"/>
<line x1="823.4" y1="335.3" x2="850.9" y2="335.3" stroke="#1a1a1a" stroke-width="1.5" />
<circle cx="837.1" cy="335.3" r="7.05" fill="#b4b4b4" stroke="#1a1a1a" stroke-width="1.5"/>
<text x="865.01" y="344.00" font-size="24.78" fill="#1a1a1a" textLength="84.69" lengthAdjust="spacingAndGlyphs">Placebo</text>
<line x1="823.4" y1="373.8" x2="850.9" y2="373.8" stroke="#1a1a1a" stroke-width="1.5" />
<polygon points="837.1,367.6 844.1,380.1 830.1,380.1" fill="#f08a24" stroke="#1a1a1a" stroke-width="1.5" stroke-linejoin="miter"/>
<text x="865.01" y="382.50" font-size="24.78" fill="#1a1a1a" textLength="173.71" lengthAdjust="spacingAndGlyphs">CoVEXS5 (5 μg)</text>
<line x1="823.4" y1="412.9" x2="850.9" y2="412.9" stroke="#1a1a1a" stroke-width="1.5" />
<rect x="830.1" y="405.8" width="14.1" height="14.1" fill="#e03c3f" stroke="#1a1a1a" stroke-width="1.5"/>
<text x="865.01" y="421.50" font-size="24.78" fill="#1a1a1a" textLength="186.74" lengthAdjust="spacingAndGlyphs">CoVEXS5 (20 μg)</text>
<line x1="823.4" y1="451.7" x2="850.9" y2="451.7" stroke="#1a1a1a" stroke-width="1.5" />
<polygon points="836.5,457.9 843.5,445.4 829.5,445.4" fill="#4f97f0" stroke="#1a1a1a" stroke-width="1.5" stroke-linejoin="miter"/>
<text x="865.01" y="460.00" font-size="24.78" fill="#1a1a1a" textLength="123.69" lengthAdjust="spacingAndGlyphs">mRNA-XBB</text>
<text x="1056.93" y="333.46" font-size="21.23" font-weight="bold" fill="#f81a1e" textLength="17.59" lengthAdjust="spacingAndGlyphs" >**</text>
<text x="1098.93" y="366.56" font-size="21.23" font-weight="bold" fill="#f2801f" textLength="9.09" lengthAdjust="spacingAndGlyphs" >*</text>
<text x="1099.93" y="381.16" font-size="21.23" font-weight="bold" fill="#f81a1e" textLength="35.09" lengthAdjust="spacingAndGlyphs" >****</text>
<text x="1160.43" y="405.96" font-size="21.23" font-weight="bold" fill="#3d8bf2" textLength="9.09" lengthAdjust="spacingAndGlyphs" >*</text>
<text x="1161.33" y="420.36" font-size="21.23" font-weight="bold" fill="#f2801f" textLength="35.09" lengthAdjust="spacingAndGlyphs" >****</text>
<text x="1161.33" y="434.96" font-size="21.23" font-weight="bold" fill="#f81a1e" textLength="35.09" lengthAdjust="spacingAndGlyphs" >****</text>
<text x="1212.34" y="418.96" font-size="21.23" font-weight="bold" fill="#3d8bf2" textLength="16.68" lengthAdjust="spacingAndGlyphs" >**</text>
<text x="1212.33" y="434.06" font-size="21.23" font-weight="bold" fill="#f2801f" textLength="34.69" lengthAdjust="spacingAndGlyphs" >****</text>
<text x="1212.33" y="448.66" font-size="21.23" font-weight="bold" fill="#f81a1e" textLength="34.69" lengthAdjust="spacingAndGlyphs" >****</text>
<text x="1264.74" y="424.46" font-size="21.23" font-weight="bold" fill="#3d8bf2" textLength="16.28" lengthAdjust="spacingAndGlyphs" >**</text>
<text x="1264.74" y="438.76" font-size="21.23" font-weight="bold" fill="#f2801f" textLength="34.29" lengthAdjust="spacingAndGlyphs" >****</text>
<text x="1264.74" y="453.46" font-size="21.23" font-weight="bold" fill="#f81a1e" textLength="34.29" lengthAdjust="spacingAndGlyphs" >****</text>
<text x="1314.44" y="424.46" font-size="21.23" font-weight="bold" fill="#3d8bf2" textLength="16.58" lengthAdjust="spacingAndGlyphs" >**</text>
<text x="1314.43" y="438.66" font-size="21.23" font-weight="bold" fill="#f2801f" textLength="34.59" lengthAdjust="spacingAndGlyphs" >****</text>
<text x="1314.43" y="453.46" font-size="21.23" font-weight="bold" fill="#f81a1e" textLength="34.59" lengthAdjust="spacingAndGlyphs" >****</text>
<polyline points="1357,179.9 1373.8,179.9 1373.8,257.9 1357,257.9" fill="none" stroke="#1a1a1a" stroke-width="1.6"/>
<text x="1379.13" y="224.86" font-size="21.23" font-weight="bold" fill="#1a1a1a" textLength="17.59" lengthAdjust="spacingAndGlyphs" >**</text>
<line x1="158.3" y1="641.8" x2="158.3" y2="962.3" stroke="#1a1a1a" stroke-width="3" />
<line x1="145.0" y1="960.8" x2="584.0" y2="960.8" stroke="#1a1a1a" stroke-width="3" />
<line x1="145.0" y1="643.4" x2="158.3" y2="643.4" stroke="#1a1a1a" stroke-width="3" />
<text x="90.23" y="656.47" font-size="33.90" font-weight="normal" fill="#1a1a1a" textLength="36.03" lengthAdjust="spacingAndGlyphs">10</text>
<text x="126.21" y="645.80" font-size="25.29" fill="#1a1a1a">9</text>
<line x1="145.0" y1="683.1" x2="158.3" y2="683.1" stroke="#1a1a1a" stroke-width="3" />
<text x="90.23" y="696.17" font-size="33.90" font-weight="normal" fill="#1a1a1a" textLength="36.03" lengthAdjust="spacingAndGlyphs">10</text>
<text x="126.30" y="685.50" font-size="25.29" fill="#1a1a1a">8</text>
<line x1="145.0" y1="722.8" x2="158.3" y2="722.8" stroke="#1a1a1a" stroke-width="3" />
<text x="90.23" y="735.87" font-size="33.90" font-weight="normal" fill="#1a1a1a" textLength="36.03" lengthAdjust="spacingAndGlyphs">10</text>
<text x="126.10" y="725.20" font-size="25.29" fill="#1a1a1a">7</text>
<line x1="145.0" y1="762.5" x2="158.3" y2="762.5" stroke="#1a1a1a" stroke-width="3" />
<text x="90.23" y="775.57" font-size="33.90" font-weight="normal" fill="#1a1a1a" textLength="36.03" lengthAdjust="spacingAndGlyphs">10</text>
<text x="126.12" y="764.90" font-size="25.29" fill="#1a1a1a">6</text>
<line x1="145.0" y1="802.2" x2="158.3" y2="802.2" stroke="#1a1a1a" stroke-width="3" />
<text x="90.23" y="815.27" font-size="33.90" font-weight="normal" fill="#1a1a1a" textLength="36.03" lengthAdjust="spacingAndGlyphs">10</text>
<text x="126.39" y="804.60" font-size="25.29" fill="#1a1a1a">5</text>
<line x1="145.0" y1="841.9" x2="158.3" y2="841.9" stroke="#1a1a1a" stroke-width="3" />
<text x="90.23" y="854.97" font-size="33.90" font-weight="normal" fill="#1a1a1a" textLength="36.03" lengthAdjust="spacingAndGlyphs">10</text>
<text x="126.82" y="844.30" font-size="25.29" fill="#1a1a1a">4</text>
<line x1="145.0" y1="881.6" x2="158.3" y2="881.6" stroke="#1a1a1a" stroke-width="3" />
<text x="90.23" y="894.67" font-size="33.90" font-weight="normal" fill="#1a1a1a" textLength="36.03" lengthAdjust="spacingAndGlyphs">10</text>
<text x="126.44" y="884.00" font-size="25.29" fill="#1a1a1a">3</text>
<line x1="145.0" y1="921.3" x2="158.3" y2="921.3" stroke="#1a1a1a" stroke-width="3" />
<text x="90.23" y="934.37" font-size="33.90" font-weight="normal" fill="#1a1a1a" textLength="36.03" lengthAdjust="spacingAndGlyphs">10</text>
<text x="126.13" y="923.70" font-size="25.29" fill="#1a1a1a">2</text>
<text x="90.23" y="974.07" font-size="33.90" font-weight="normal" fill="#1a1a1a" textLength="36.03" lengthAdjust="spacingAndGlyphs">10</text>
<text x="125.47" y="963.40" font-size="25.29" fill="#1a1a1a">1</text>
<line x1="225.3" y1="960.8" x2="225.3" y2="974.3" stroke="#1a1a1a" stroke-width="3" />
<line x1="371.4" y1="960.8" x2="371.4" y2="974.3" stroke="#1a1a1a" stroke-width="3" />
<line x1="516.9" y1="960.8" x2="516.9" y2="974.3" stroke="#1a1a1a" stroke-width="3" />
<line x1="296.1" y1="642" x2="296.1" y2="958" stroke="#1a1a1a" stroke-width="2.8" stroke-linecap="round" stroke-dasharray="0 6.3"/>
<line x1="442.7" y1="642" x2="442.7" y2="958" stroke="#1a1a1a" stroke-width="2.8" stroke-linecap="round" stroke-dasharray="0 6.3"/>
<text transform="translate(59.4,867) rotate(-90)" font-size="36.2" font-weight="bold" fill="#1a1a1a">TCID<tspan font-size="22.5" dy="9.7">50</tspan><tspan dy="-9.7">/g</tspan></text>
<text transform="translate(213.5,990) rotate(-45)" font-size="28" text-anchor="end" fill="#1a1a1a"><tspan x="0" y="0">Day 3 Nasal</tspan><tspan x="0" y="34">turbinate</tspan></text>
<text transform="translate(364.1,985.6) rotate(-45)" font-size="28" text-anchor="end" fill="#1a1a1a"><tspan x="0" y="0">Day 3 Lung</tspan><tspan x="0" y="34">(cranial)</tspan></text>
<text transform="translate(509.6,985.6) rotate(-45)" font-size="28" text-anchor="end" fill="#1a1a1a"><tspan x="0" y="0">Day 3 Lung</tspan><tspan x="0" y="34">(caudal)</tspan></text>
<circle cx="182.2" cy="672.9" r="5.90" fill="#b4b4b4" stroke="#1a1a1a" stroke-width="1.4"/><circle cx="176.8" cy="677.6" r="5.90" fill="#b4b4b4" stroke="#1a1a1a" stroke-width="1.4"/><circle cx="182.2" cy="697.2" r="5.90" fill="#b4b4b4" stroke="#1a1a1a" stroke-width="1.4"/><circle cx="178.9" cy="705.9" r="5.90" fill="#b4b4b4" stroke="#1a1a1a" stroke-width="1.4"/><circle cx="177.5" cy="705.0" r="5.90" fill="#b4b4b4" stroke="#1a1a1a" stroke-width="1.4"/><circle cx="179.1" cy="722.8" r="5.90" fill="#b4b4b4" stroke="#1a1a1a" stroke-width="1.4"/><polygon points="210.5,662.7 217.8,676.3 203.2,676.3" fill="#f08a24" stroke="#1a1a1a" stroke-width="1.4" stroke-linejoin="miter"/><polygon points="212.6,682.0 219.9,695.6 205.3,695.6" fill="#f08a24" stroke="#1a1a1a" stroke-width="1.4" stroke-linejoin="miter"/><polygon points="207.8,695.2 215.1,708.8 200.5,708.8" fill="#f08a24" stroke="#1a1a1a" stroke-width="1.4" stroke-linejoin="miter"/><polygon points="207.8,709.8 215.1,723.4 200.5,723.4" fill="#f08a24" stroke="#1a1a1a" stroke-width="1.4" stroke-linejoin="miter"/><polygon points="211.9,721.4 219.2,735.0 204.6,735.0" fill="#f08a24" stroke="#1a1a1a" stroke-width="1.4" stroke-linejoin="miter"/><polygon points="210.5,721.7 217.8,735.3 203.2,735.3" fill="#f08a24" stroke="#1a1a1a" stroke-width="1.4" stroke-linejoin="miter"/><polygon points="210.5,762.5 217.8,776.1 203.2,776.1" fill="#f08a24" stroke="#1a1a1a" stroke-width="1.4" stroke-linejoin="miter"/><rect x="238.3" y="677.8" width="11.8" height="11.8" fill="#e03c3f" stroke="#1a1a1a" stroke-width="1.4"/><rect x="232.9" y="684.5" width="11.8" height="11.8" fill="#e03c3f" stroke="#1a1a1a" stroke-width="1.4"/><rect x="233.1" y="693.1" width="11.8" height="11.8" fill="#e03c3f" stroke="#1a1a1a" stroke-width="1.4"/><rect x="238.3" y="702.1" width="11.8" height="11.8" fill="#e03c3f" stroke="#1a1a1a" stroke-width="1.4"/><rect x="235.6" y="712.1" width="11.8" height="11.8" fill="#e03c3f" stroke="#1a1a1a" stroke-width="1.4"/><rect x="238.3" y="729.7" width="11.8" height="11.8" fill="#e03c3f" stroke="#1a1a1a" stroke-width="1.4"/><rect x="232.9" y="731.1" width="11.8" height="11.8" fill="#e03c3f" stroke="#1a1a1a" stroke-width="1.4"/><polygon points="272.5,676.3 279.8,662.7 265.2,662.7" fill="#4f97f0" stroke="#1a1a1a" stroke-width="1.4" stroke-linejoin="miter"/><polygon points="275.2,695.6 282.5,682.0 267.9,682.0" fill="#4f97f0" stroke="#1a1a1a" stroke-width="1.4" stroke-linejoin="miter"/><polygon points="270.5,699.8 277.8,686.2 263.2,686.2" fill="#4f97f0" stroke="#1a1a1a" stroke-width="1.4" stroke-linejoin="miter"/><polygon points="272.5,722.5 279.8,708.9 265.2,708.9" fill="#4f97f0" stroke="#1a1a1a" stroke-width="1.4" stroke-linejoin="miter"/><polygon points="272.5,741.0 279.8,727.4 265.2,727.4" fill="#4f97f0" stroke="#1a1a1a" stroke-width="1.4" stroke-linejoin="miter"/><polygon points="272.5,776.7 279.8,763.1 265.2,763.1" fill="#4f97f0" stroke="#1a1a1a" stroke-width="1.4" stroke-linejoin="miter"/><polygon points="272.5,799.0 279.8,785.4 265.2,785.4" fill="#4f97f0" stroke="#1a1a1a" stroke-width="1.4" stroke-linejoin="miter"/><line x1="169.2" y1="690.7" x2="189.6" y2="690.7" stroke="#1a1a1a" stroke-width="3" /><line x1="200.2" y1="694.5" x2="221.0" y2="694.5" stroke="#1a1a1a" stroke-width="3" /><line x1="231.4" y1="701.2" x2="251.9" y2="701.2" stroke="#1a1a1a" stroke-width="3" /><line x1="262.4" y1="694.2" x2="282.9" y2="694.2" stroke="#1a1a1a" stroke-width="3" /><circle cx="324.5" cy="676.9" r="5.90" fill="#b4b4b4" stroke="#1a1a1a" stroke-width="1.4"/><circle cx="327.0" cy="697.1" r="5.90" fill="#b4b4b4" stroke="#1a1a1a" stroke-width="1.4"/><circle cx="322.9" cy="699.6" r="5.90" fill="#b4b4b4" stroke="#1a1a1a" stroke-width="1.4"/><circle cx="324.5" cy="716.1" r="5.90" fill="#b4b4b4" stroke="#1a1a1a" stroke-width="1.4"/><circle cx="321.9" cy="738.8" r="5.90" fill="#b4b4b4" stroke="#1a1a1a" stroke-width="1.4"/><circle cx="327.0" cy="738.8" r="5.90" fill="#b4b4b4" stroke="#1a1a1a" stroke-width="1.4"/><circle cx="324.5" cy="749.2" r="5.90" fill="#b4b4b4" stroke="#1a1a1a" stroke-width="1.4"/><polygon points="358.0,704.4 365.3,718.0 350.7,718.0" fill="#f08a24" stroke="#1a1a1a" stroke-width="1.4" stroke-linejoin="miter"/><polygon points="352.9,709.8 360.2,723.4 345.6,723.4" fill="#f08a24" stroke="#1a1a1a" stroke-width="1.4" stroke-linejoin="miter"/><polygon points="354.9,717.0 362.2,730.6 347.6,730.6" fill="#f08a24" stroke="#1a1a1a" stroke-width="1.4" stroke-linejoin="miter"/><polygon points="354.9,723.2 362.2,736.8 347.6,736.8" fill="#f08a24" stroke="#1a1a1a" stroke-width="1.4" stroke-linejoin="miter"/><polygon points="355.5,746.7 362.8,760.3 348.2,760.3" fill="#f08a24" stroke="#1a1a1a" stroke-width="1.4" stroke-linejoin="miter"/><polygon points="355.9,884.5 363.2,898.1 348.6,898.1" fill="#f08a24" stroke="#1a1a1a" stroke-width="1.4" stroke-linejoin="miter"/><rect x="383.5" y="706.1" width="11.8" height="11.8" fill="#e03c3f" stroke="#1a1a1a" stroke-width="1.4"/><rect x="378.6" y="720.1" width="11.8" height="11.8" fill="#e03c3f" stroke="#1a1a1a" stroke-width="1.4"/><rect x="378.6" y="740.8" width="11.8" height="11.8" fill="#e03c3f" stroke="#1a1a1a" stroke-width="1.4"/><rect x="383.5" y="749.9" width="11.8" height="11.8" fill="#e03c3f" stroke="#1a1a1a" stroke-width="1.4"/><rect x="381.0" y="759.8" width="11.8" height="11.8" fill="#e03c3f" stroke="#1a1a1a" stroke-width="1.4"/><rect x="383.5" y="831.7" width="11.8" height="11.8" fill="#e03c3f" stroke="#1a1a1a" stroke-width="1.4"/><rect x="378.6" y="838.3" width="11.8" height="11.8" fill="#e03c3f" stroke="#1a1a1a" stroke-width="1.4"/><polygon points="418.3,724.5 425.6,710.9 411.0,710.9" fill="#4f97f0" stroke="#1a1a1a" stroke-width="1.4" stroke-linejoin="miter"/><polygon points="414.8,736.8 422.1,723.2 407.5,723.2" fill="#4f97f0" stroke="#1a1a1a" stroke-width="1.4" stroke-linejoin="miter"/><polygon points="421.0,737.8 428.3,724.2 413.7,724.2" fill="#4f97f0" stroke="#1a1a1a" stroke-width="1.4" stroke-linejoin="miter"/><polygon points="418.3,750.3 425.6,736.7 411.0,736.7" fill="#4f97f0" stroke="#1a1a1a" stroke-width="1.4" stroke-linejoin="miter"/><polygon points="418.3,757.6 425.6,744.0 411.0,744.0" fill="#4f97f0" stroke="#1a1a1a" stroke-width="1.4" stroke-linejoin="miter"/><polygon points="418.3,813.8 425.6,800.2 411.0,800.2" fill="#4f97f0" stroke="#1a1a1a" stroke-width="1.4" stroke-linejoin="miter"/><line x1="314.6" y1="700.6" x2="334.9" y2="700.6" stroke="#1a1a1a" stroke-width="3" /><line x1="345.6" y1="727.1" x2="366.3" y2="727.1" stroke="#1a1a1a" stroke-width="3" /><line x1="377.0" y1="736.8" x2="397.3" y2="736.8" stroke="#1a1a1a" stroke-width="3" /><line x1="408.2" y1="734.7" x2="428.3" y2="734.7" stroke="#1a1a1a" stroke-width="3" /><circle cx="467.2" cy="673.9" r="5.90" fill="#b4b4b4" stroke="#1a1a1a" stroke-width="1.4"/><circle cx="472.7" cy="677.2" r="5.90" fill="#b4b4b4" stroke="#1a1a1a" stroke-width="1.4"/><circle cx="468.9" cy="682.7" r="5.90" fill="#b4b4b4" stroke="#1a1a1a" stroke-width="1.4"/><circle cx="470.2" cy="694.0" r="5.90" fill="#b4b4b4" stroke="#1a1a1a" stroke-width="1.4"/><circle cx="472.2" cy="722.5" r="5.90" fill="#b4b4b4" stroke="#1a1a1a" stroke-width="1.4"/><circle cx="467.7" cy="728.0" r="5.90" fill="#b4b4b4" stroke="#1a1a1a" stroke-width="1.4"/><polygon points="501.1,675.2 508.4,688.8 493.8,688.8" fill="#f08a24" stroke="#1a1a1a" stroke-width="1.4" stroke-linejoin="miter"/><polygon points="501.1,708.2 508.4,721.8 493.8,721.8" fill="#f08a24" stroke="#1a1a1a" stroke-width="1.4" stroke-linejoin="miter"/><polygon points="503.6,727.8 510.9,741.4 496.3,741.4" fill="#f08a24" stroke="#1a1a1a" stroke-width="1.4" stroke-linejoin="miter"/><polygon points="499.1,735.4 506.4,749.0 491.8,749.0" fill="#f08a24" stroke="#1a1a1a" stroke-width="1.4" stroke-linejoin="miter"/><polygon points="501.1,755.2 508.4,768.8 493.8,768.8" fill="#f08a24" stroke="#1a1a1a" stroke-width="1.4" stroke-linejoin="miter"/><polygon points="501.1,887.8 508.4,901.4 493.8,901.4" fill="#f08a24" stroke="#1a1a1a" stroke-width="1.4" stroke-linejoin="miter"/><rect x="526.7" y="691.9" width="11.8" height="11.8" fill="#e03c3f" stroke="#1a1a1a" stroke-width="1.4"/><rect x="529.2" y="710.8" width="11.8" height="11.8" fill="#e03c3f" stroke="#1a1a1a" stroke-width="1.4"/><rect x="524.2" y="719.1" width="11.8" height="11.8" fill="#e03c3f" stroke="#1a1a1a" stroke-width="1.4"/><rect x="524.2" y="777.4" width="11.8" height="11.8" fill="#e03c3f" stroke="#1a1a1a" stroke-width="1.4"/><rect x="529.2" y="779.9" width="11.8" height="11.8" fill="#e03c3f" stroke="#1a1a1a" stroke-width="1.4"/><rect x="526.7" y="787.5" width="11.8" height="11.8" fill="#e03c3f" stroke="#1a1a1a" stroke-width="1.4"/><rect x="526.7" y="824.0" width="11.8" height="11.8" fill="#e03c3f" stroke="#1a1a1a" stroke-width="1.4"/><polygon points="565.8,707.4 573.1,693.8 558.5,693.8" fill="#4f97f0" stroke="#1a1a1a" stroke-width="1.4" stroke-linejoin="miter"/><polygon points="560.8,709.6 568.1,696.0 553.5,696.0" fill="#4f97f0" stroke="#1a1a1a" stroke-width="1.4" stroke-linejoin="miter"/><polygon points="563.3,736.8 570.6,723.2 556.0,723.2" fill="#4f97f0" stroke="#1a1a1a" stroke-width="1.4" stroke-linejoin="miter"/><polygon points="563.3,743.8 570.6,730.2 556.0,730.2" fill="#4f97f0" stroke="#1a1a1a" stroke-width="1.4" stroke-linejoin="miter"/><polygon points="563.3,739.8 570.6,726.2 556.0,726.2" fill="#4f97f0" stroke="#1a1a1a" stroke-width="1.4" stroke-linejoin="miter"/><line x1="459.8" y1="687.0" x2="481.0" y2="687.0" stroke="#1a1a1a" stroke-width="3" /><line x1="491.2" y1="711.3" x2="511.5" y2="711.3" stroke="#1a1a1a" stroke-width="3" /><line x1="522.3" y1="724.2" x2="542.8" y2="724.2" stroke="#1a1a1a" stroke-width="3" /><line x1="553.6" y1="718.0" x2="573.9" y2="718.0" stroke="#1a1a1a" stroke-width="3" />
<line x1="455.8" y1="566.9" x2="553.6" y2="566.9" stroke="#1a1a1a" stroke-width="1.8" />
<text x="504.7" y="568.4" font-size="36" font-weight="bold" text-anchor="middle" fill="#1a1a1a" >*</text>
<line x1="455.8" y1="602.4" x2="522.2" y2="602.4" stroke="#1a1a1a" stroke-width="1.8" />
<text x="488.9" y="604.7" font-size="36" font-weight="bold" text-anchor="middle" fill="#1a1a1a" >*</text>
<line x1="455.8" y1="635.7" x2="496.3" y2="635.7" stroke="#1a1a1a" stroke-width="1.8" />
<text x="476.0" y="638.0" font-size="36" font-weight="bold" text-anchor="middle" fill="#1a1a1a" >*</text>
<line x1="774.5" y1="647.5" x2="774.5" y2="963.8" stroke="#1a1a1a" stroke-width="2.8" />
<line x1="763.0" y1="962.4" x2="1155.0" y2="962.4" stroke="#1a1a1a" stroke-width="2.8" />
<line x1="762.6" y1="962.4" x2="774.5" y2="962.4" stroke="#1a1a1a" stroke-width="2.8" />
<text x="741.41" y="973.10" font-size="31.83" font-weight="normal" fill="#1a1a1a" textLength="16.44" lengthAdjust="spacingAndGlyphs">0</text>
<line x1="762.6" y1="884.1" x2="774.5" y2="884.1" stroke="#1a1a1a" stroke-width="2.8" />
<text x="741.70" y="894.80" font-size="31.83" font-weight="normal" fill="#1a1a1a" textLength="16.44" lengthAdjust="spacingAndGlyphs">1</text>
<line x1="762.6" y1="805.8" x2="774.5" y2="805.8" stroke="#1a1a1a" stroke-width="2.8" />
<text x="741.74" y="816.50" font-size="31.83" font-weight="normal" fill="#1a1a1a" textLength="16.44" lengthAdjust="spacingAndGlyphs">2</text>
<line x1="762.6" y1="727.5" x2="774.5" y2="727.5" stroke="#1a1a1a" stroke-width="2.8" />
<text x="741.55" y="738.20" font-size="31.83" font-weight="normal" fill="#1a1a1a" textLength="16.44" lengthAdjust="spacingAndGlyphs">3</text>
<line x1="762.6" y1="649.2" x2="774.5" y2="649.2" stroke="#1a1a1a" stroke-width="2.8" />
<text x="741.12" y="659.90" font-size="31.83" font-weight="normal" fill="#1a1a1a" textLength="16.44" lengthAdjust="spacingAndGlyphs">4</text>
<line x1="819.5" y1="962.4" x2="819.5" y2="974.5" stroke="#1a1a1a" stroke-width="2.8" />
<line x1="916.1" y1="962.4" x2="916.1" y2="974.5" stroke="#1a1a1a" stroke-width="2.8" />
<line x1="1012.9" y1="962.4" x2="1012.9" y2="974.5" stroke="#1a1a1a" stroke-width="2.8" />
<line x1="1109.9" y1="962.4" x2="1109.9" y2="974.5" stroke="#1a1a1a" stroke-width="2.8" />
<text transform="rotate(-90)" x="-924.51" y="687.23" font-size="27.91" font-weight="bold" fill="#1a1a1a" textLength="237.31" lengthAdjust="spacingAndGlyphs">Anti-SARS-CoV-1</text>
<text transform="translate(721.9,805.2) rotate(-90)" font-size="29.2" font-weight="bold" text-anchor="middle" fill="#1a1a1a">neutralisation titer (log<tspan font-size="19" dy="7">10</tspan><tspan dy="-7">)</tspan></text>
<text x="797.65" y="1102.89" font-size="28.83" font-weight="bold" fill="#1a1a1a" textLength="298.30" lengthAdjust="spacingAndGlyphs" >Time post-challenge</text>
<text transform="translate(827.5,995) rotate(-45)" font-size="30.3" text-anchor="end" fill="#1a1a1a">Day 0</text>
<text transform="translate(924.1,995) rotate(-45)" font-size="30.3" text-anchor="end" fill="#1a1a1a">Day 3</text>
<text transform="translate(1020.9,995) rotate(-45)" font-size="30.3" text-anchor="end" fill="#1a1a1a">Day 7</text>
<text transform="translate(1117.9,995) rotate(-45)" font-size="30.3" text-anchor="end" fill="#1a1a1a">Day 10</text>
<circle cx="788.3" cy="959.6" r="6.55" fill="#b4b4b4" stroke="#1a1a1a" stroke-width="1.4"/><circle cx="885.1" cy="959.6" r="6.55" fill="#b4b4b4" stroke="#1a1a1a" stroke-width="1.4"/><circle cx="982.0" cy="728.8" r="6.55" fill="#b4b4b4" stroke="#1a1a1a" stroke-width="1.4"/><circle cx="982.0" cy="766.1" r="6.55" fill="#b4b4b4" stroke="#1a1a1a" stroke-width="1.4"/><circle cx="982.0" cy="776.4" r="6.55" fill="#b4b4b4" stroke="#1a1a1a" stroke-width="1.4"/><circle cx="1079.0" cy="752.1" r="6.55" fill="#b4b4b4" stroke="#1a1a1a" stroke-width="1.4"/><circle cx="1079.0" cy="766.1" r="6.55" fill="#b4b4b4" stroke="#1a1a1a" stroke-width="1.4"/><circle cx="1079.0" cy="776.4" r="6.55" fill="#b4b4b4" stroke="#1a1a1a" stroke-width="1.4"/><circle cx="1079.0" cy="789.8" r="6.55" fill="#b4b4b4" stroke="#1a1a1a" stroke-width="1.4"/><polygon points="809.0,956.7 815.8,969.3 802.2,969.3" fill="#f08a24" stroke="#1a1a1a" stroke-width="1.4" stroke-linejoin="miter"/><polygon points="809.0,955.2 815.8,967.8 802.2,967.8" fill="#f08a24" stroke="#1a1a1a" stroke-width="1.4" stroke-linejoin="miter"/><polygon points="809.0,953.2 815.8,965.8 802.2,965.8" fill="#f08a24" stroke="#1a1a1a" stroke-width="1.4" stroke-linejoin="miter"/><polygon points="809.0,817.1 815.8,829.7 802.2,829.7" fill="#f08a24" stroke="#1a1a1a" stroke-width="1.4" stroke-linejoin="miter"/><polygon points="809.0,878.5 815.8,891.1 802.2,891.1" fill="#f08a24" stroke="#1a1a1a" stroke-width="1.4" stroke-linejoin="miter"/><polygon points="905.6,956.7 912.4,969.3 898.8,969.3" fill="#f08a24" stroke="#1a1a1a" stroke-width="1.4" stroke-linejoin="miter"/><polygon points="905.6,955.2 912.4,967.8 898.8,967.8" fill="#f08a24" stroke="#1a1a1a" stroke-width="1.4" stroke-linejoin="miter"/><polygon points="905.6,953.2 912.4,965.8 898.8,965.8" fill="#f08a24" stroke="#1a1a1a" stroke-width="1.4" stroke-linejoin="miter"/><polygon points="905.8,817.0 912.6,829.6 899.0,829.6" fill="#f08a24" stroke="#1a1a1a" stroke-width="1.4" stroke-linejoin="miter"/><polygon points="905.8,878.2 912.6,890.8 899.0,890.8" fill="#f08a24" stroke="#1a1a1a" stroke-width="1.4" stroke-linejoin="miter"/><polygon points="1002.7,746.0 1009.5,758.6 995.9,758.6" fill="#f08a24" stroke="#1a1a1a" stroke-width="1.4" stroke-linejoin="miter"/><polygon points="1002.7,760.7 1009.5,773.3 995.9,773.3" fill="#f08a24" stroke="#1a1a1a" stroke-width="1.4" stroke-linejoin="miter"/><polygon points="1099.5,722.6 1106.3,735.2 1092.7,735.2" fill="#f08a24" stroke="#1a1a1a" stroke-width="1.4" stroke-linejoin="miter"/><polygon points="1099.5,746.3 1106.3,758.9 1092.7,758.9" fill="#f08a24" stroke="#1a1a1a" stroke-width="1.4" stroke-linejoin="miter"/><polygon points="1099.5,770.1 1106.3,782.7 1092.7,782.7" fill="#f08a24" stroke="#1a1a1a" stroke-width="1.4" stroke-linejoin="miter"/><rect x="823.1" y="955.6" width="13.8" height="13.8" fill="#e03c3f" stroke="#1a1a1a" stroke-width="1.4"/><rect x="823.1" y="953.1" width="13.8" height="13.8" fill="#e03c3f" stroke="#1a1a1a" stroke-width="1.4"/><rect x="822.9" y="792.5" width="13.8" height="13.8" fill="#e03c3f" stroke="#1a1a1a" stroke-width="1.4"/><rect x="822.9" y="806.7" width="13.8" height="13.8" fill="#e03c3f" stroke="#1a1a1a" stroke-width="1.4"/><rect x="822.9" y="839.7" width="13.8" height="13.8" fill="#e03c3f" stroke="#1a1a1a" stroke-width="1.4"/><rect x="919.8" y="953.1" width="13.8" height="13.8" fill="#e03c3f" stroke="#1a1a1a" stroke-width="1.4"/><rect x="919.8" y="955.6" width="13.8" height="13.8" fill="#e03c3f" stroke="#1a1a1a" stroke-width="1.4"/><rect x="919.7" y="830.1" width="13.8" height="13.8" fill="#e03c3f" stroke="#1a1a1a" stroke-width="1.4"/><rect x="919.7" y="877.8" width="13.8" height="13.8" fill="#e03c3f" stroke="#1a1a1a" stroke-width="1.4"/><rect x="1016.4" y="712.0" width="13.8" height="13.8" fill="#e03c3f" stroke="#1a1a1a" stroke-width="1.4"/><rect x="1016.4" y="735.9" width="13.8" height="13.8" fill="#e03c3f" stroke="#1a1a1a" stroke-width="1.4"/><rect x="1016.4" y="768.9" width="13.8" height="13.8" fill="#e03c3f" stroke="#1a1a1a" stroke-width="1.4"/><rect x="1113.1" y="712.0" width="13.8" height="13.8" fill="#e03c3f" stroke="#1a1a1a" stroke-width="1.4"/><rect x="1113.1" y="746.1" width="13.8" height="13.8" fill="#e03c3f" stroke="#1a1a1a" stroke-width="1.4"/><rect x="1113.1" y="759.2" width="13.8" height="13.8" fill="#e03c3f" stroke="#1a1a1a" stroke-width="1.4"/><rect x="1113.1" y="782.9" width="13.8" height="13.8" fill="#e03c3f" stroke="#1a1a1a" stroke-width="1.4"/><polygon points="850.7,965.8 857.5,953.2 843.9,953.2" fill="#4f97f0" stroke="#1a1a1a" stroke-width="1.4" stroke-linejoin="miter"/><polygon points="850.7,967.3 857.5,954.7 843.9,954.7" fill="#4f97f0" stroke="#1a1a1a" stroke-width="1.4" stroke-linejoin="miter"/><polygon points="850.7,969.3 857.5,956.7 843.9,956.7" fill="#4f97f0" stroke="#1a1a1a" stroke-width="1.4" stroke-linejoin="miter"/><polygon points="947.3,965.8 954.1,953.2 940.5,953.2" fill="#4f97f0" stroke="#1a1a1a" stroke-width="1.4" stroke-linejoin="miter"/><polygon points="947.3,967.3 954.1,954.7 940.5,954.7" fill="#4f97f0" stroke="#1a1a1a" stroke-width="1.4" stroke-linejoin="miter"/><polygon points="947.3,969.3 954.1,956.7 940.5,956.7" fill="#4f97f0" stroke="#1a1a1a" stroke-width="1.4" stroke-linejoin="miter"/><polygon points="1044.0,734.6 1050.8,722.0 1037.2,722.0" fill="#4f97f0" stroke="#1a1a1a" stroke-width="1.4" stroke-linejoin="miter"/><polygon points="1044.0,748.6 1050.8,736.0 1037.2,736.0" fill="#4f97f0" stroke="#1a1a1a" stroke-width="1.4" stroke-linejoin="miter"/><polygon points="1044.0,796.2 1050.8,783.6 1037.2,783.6" fill="#4f97f0" stroke="#1a1a1a" stroke-width="1.4" stroke-linejoin="miter"/><polygon points="1140.8,758.9 1147.6,746.3 1134.0,746.3" fill="#4f97f0" stroke="#1a1a1a" stroke-width="1.4" stroke-linejoin="miter"/><polygon points="1140.8,772.2 1147.6,759.6 1134.0,759.6" fill="#4f97f0" stroke="#1a1a1a" stroke-width="1.4" stroke-linejoin="miter"/><polygon points="1140.8,796.2 1147.6,783.6 1134.0,783.6" fill="#4f97f0" stroke="#1a1a1a" stroke-width="1.4" stroke-linejoin="miter"/><line x1="781.1" y1="959.7" x2="795.1" y2="959.7" stroke="#1a1a1a" stroke-width="3" /><line x1="822.8" y1="857.7" x2="836.8" y2="857.7" stroke="#1a1a1a" stroke-width="3" /><line x1="878.1" y1="959.7" x2="892.1" y2="959.7" stroke="#1a1a1a" stroke-width="3" /><line x1="898.8" y1="881.9" x2="912.8" y2="881.9" stroke="#1a1a1a" stroke-width="3" /><line x1="919.6" y1="891.5" x2="933.6" y2="891.5" stroke="#1a1a1a" stroke-width="3" /><line x1="975.0" y1="753.5" x2="989.0" y2="753.5" stroke="#1a1a1a" stroke-width="3" /><line x1="995.7" y1="762.0" x2="1009.7" y2="762.0" stroke="#1a1a1a" stroke-width="3" /><line x1="1016.3" y1="744.0" x2="1030.3" y2="744.0" stroke="#1a1a1a" stroke-width="3" /><line x1="1037.0" y1="752.5" x2="1051.0" y2="752.5" stroke="#1a1a1a" stroke-width="3" /><line x1="1072.0" y1="767.9" x2="1086.0" y2="767.9" stroke="#1a1a1a" stroke-width="3" /><line x1="1092.5" y1="748.2" x2="1106.5" y2="748.2" stroke="#1a1a1a" stroke-width="3" /><line x1="1113.0" y1="746.4" x2="1127.0" y2="746.4" stroke="#1a1a1a" stroke-width="3" /><line x1="1133.8" y1="766.1" x2="1147.8" y2="766.1" stroke="#1a1a1a" stroke-width="3" />
<circle cx="1231.9" cy="751.4" r="7.00" fill="#b4b4b4" stroke="#1a1a1a" stroke-width="1.5"/>
<text x="1263.92" y="759.00" font-size="25.00" fill="#1a1a1a" textLength="84.13" lengthAdjust="spacingAndGlyphs">Placebo</text>
<polygon points="1231.9,786.2 1238.9,799.4 1224.9,799.4" fill="#f08a24" stroke="#1a1a1a" stroke-width="1.5" stroke-linejoin="miter"/>
<text x="1263.92" y="800.20" font-size="25.00" fill="#1a1a1a" textLength="172.58" lengthAdjust="spacingAndGlyphs">CoVEXS5 (5 μg)</text>
<rect x="1224.9" y="825.4" width="14.0" height="14.0" fill="#e03c3f" stroke="#1a1a1a" stroke-width="1.5"/>
<text x="1263.92" y="840.40" font-size="25.00" fill="#1a1a1a" textLength="185.53" lengthAdjust="spacingAndGlyphs">CoVEXS5 (20 μg)</text>
<polygon points="1231.0,876.1 1238.0,862.9 1224.0,862.9" fill="#4f97f0" stroke="#1a1a1a" stroke-width="1.5" stroke-linejoin="miter"/>
<text x="1263.92" y="877.50" font-size="25.00" fill="#1a1a1a" textLength="122.89" lengthAdjust="spacingAndGlyphs">mRNA-XBB</text>
</svg></body></html>
